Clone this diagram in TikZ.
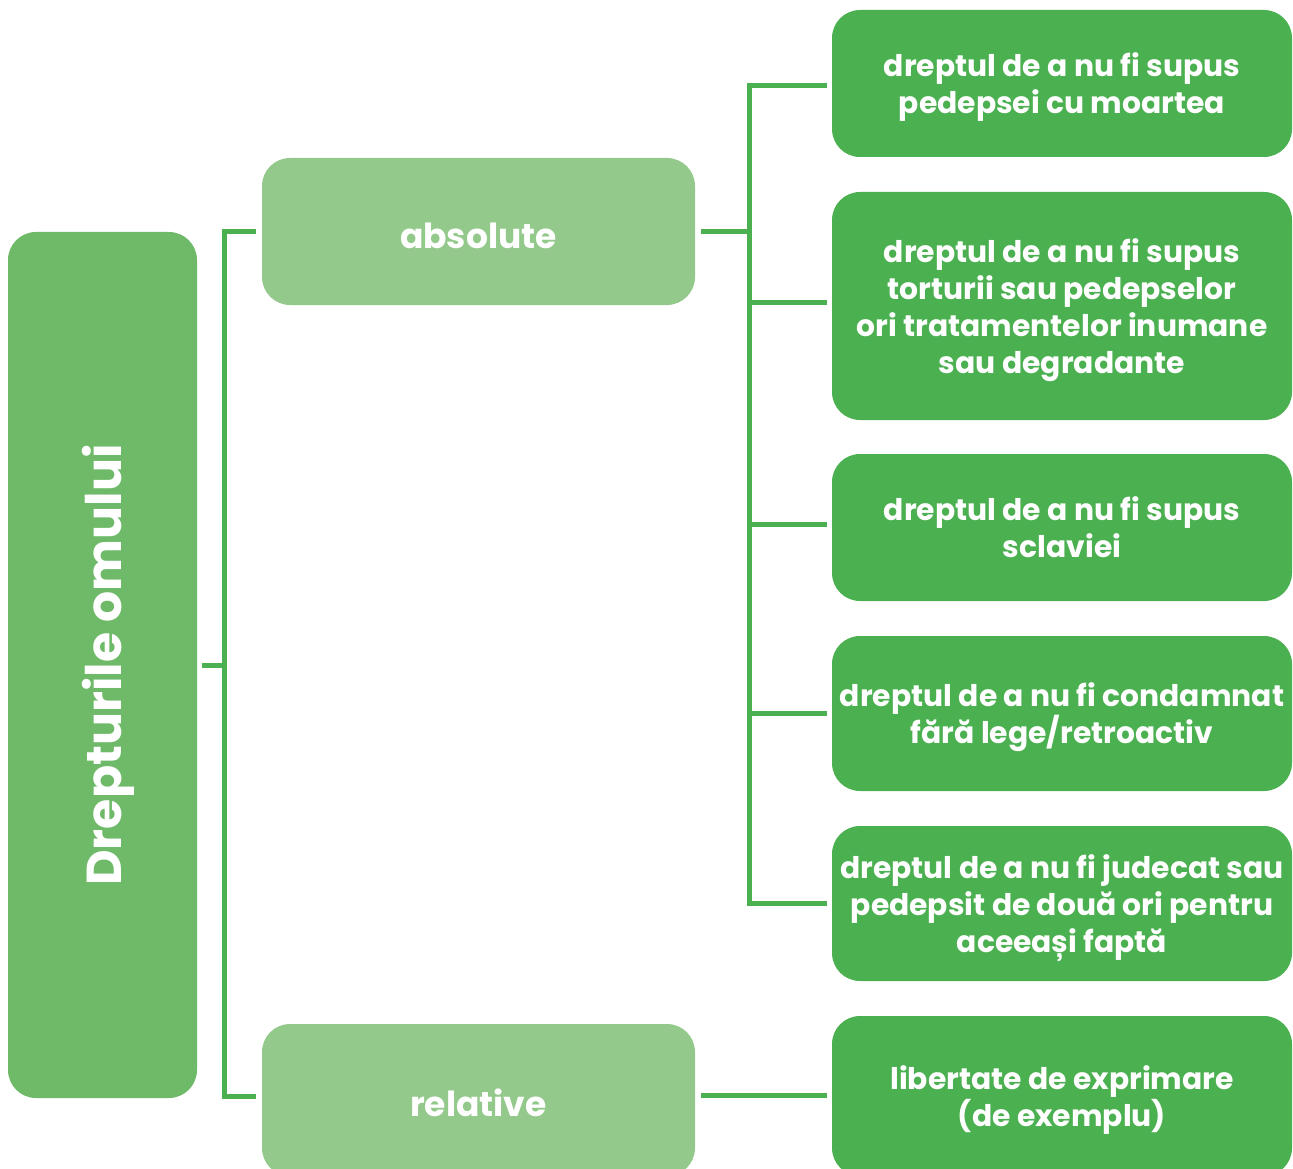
\documentclass[tikz,border=0pt]{standalone}
\usepackage{fontspec}
\setmainfont{Poppins}
\definecolor{leafgreen}{HTML}{4BB050}
\definecolor{mossgreen}{HTML}{6FBA69}
\definecolor{palegreen}{HTML}{93C98B}
\tikzset{
  box/.style={rounded corners=28pt, text=white, align=center, inner sep=0pt,
    text depth=0pt, font=\bfseries\fontsize{29.8}{37}\selectfont},
  rightbox/.style={box, fill=leafgreen, minimum width=460pt},
  catbox/.style={box, fill=palegreen, minimum width=433pt, text height=33pt,
    font=\bfseries\fontsize{34.5}{37}\selectfont},
  link/.style={leafgreen, line width=5pt},
}
\begin{document}
\begin{tikzpicture}[x=1pt, y=-1pt]
  \useasboundingbox (0,0) rectangle (1293,1169);
  % Root
  \node[box, fill=mossgreen, minimum width=189pt, minimum height=866pt] (root) at (102.5,665) {};
  \node[rotate=90, text=white, font=\bfseries\fontsize{49}{50}\selectfont]
    (roottext) at ([xshift=6pt]root.center) {Drepturile omului};
  % Categories
  \node[catbox, minimum height=147pt] (absolute) at (478.5,231.5) {absolute};
  \node[catbox, minimum height=152pt] (relative) at (478.5,1100) {relative};
  % Rights
  \node[rightbox, minimum height=147pt] (r1) at (1062,83.5)
    {dreptul de a nu fi supus\\pedepsei cu moartea};
  \node[rightbox, minimum height=228pt] (r2) at (1062,306)
    {dreptul de a nu fi supus\\torturii sau pedepselor\\ori tratamentelor inumane\\sau degradante};
  \node[rightbox, minimum height=147pt] (r3) at (1062,527.5)
    {dreptul de a nu fi supus\\sclaviei};
  \node[rightbox, minimum height=155pt] (r4) at (1062,713.5)
    {dreptul de a nu fi condamnat\\fără lege/retroactiv};
  \node[rightbox, minimum height=155pt] (r5) at (1062,903.5)
    {dreptul de a nu fi judecat sau\\pedepsit de două ori pentru\\aceeași faptă};
  \node[rightbox, minimum height=160pt] (r6) at (1062,1096)
    {libertate de exprimare\\(de exemplu)};
  % Left bracket
  \coordinate (lbus) at (224,665);
  \draw[link] ([xshift=5pt]root.east) -- (lbus);
  \draw[link] ([xshift=-6pt]absolute.west) -| (lbus) |- ([xshift=-6pt,yshift=4pt]relative.west);
  % Right bracket
  \coordinate (rbus) at (749,231.5);
  \draw[link] ([xshift=6pt]absolute.east) -- (rbus);
  \draw[link] ([xshift=-5pt,yshift=-2.5pt]r1.west) -| (rbus |- r5.west) -- ([xshift=-5pt]r5.west);
  \foreach \n/\dy in {r2/4, r3/3.5, r4/0}
    \draw[link] ([yshift=\dy pt]rbus |- \n.west) -- ([xshift=-5pt,yshift=\dy pt]\n.west);
  \draw[link] ([xshift=6pt,yshift=5pt]relative.east) -- ([xshift=-5pt,yshift=1pt]r6.west);
\end{tikzpicture}
\end{document}
